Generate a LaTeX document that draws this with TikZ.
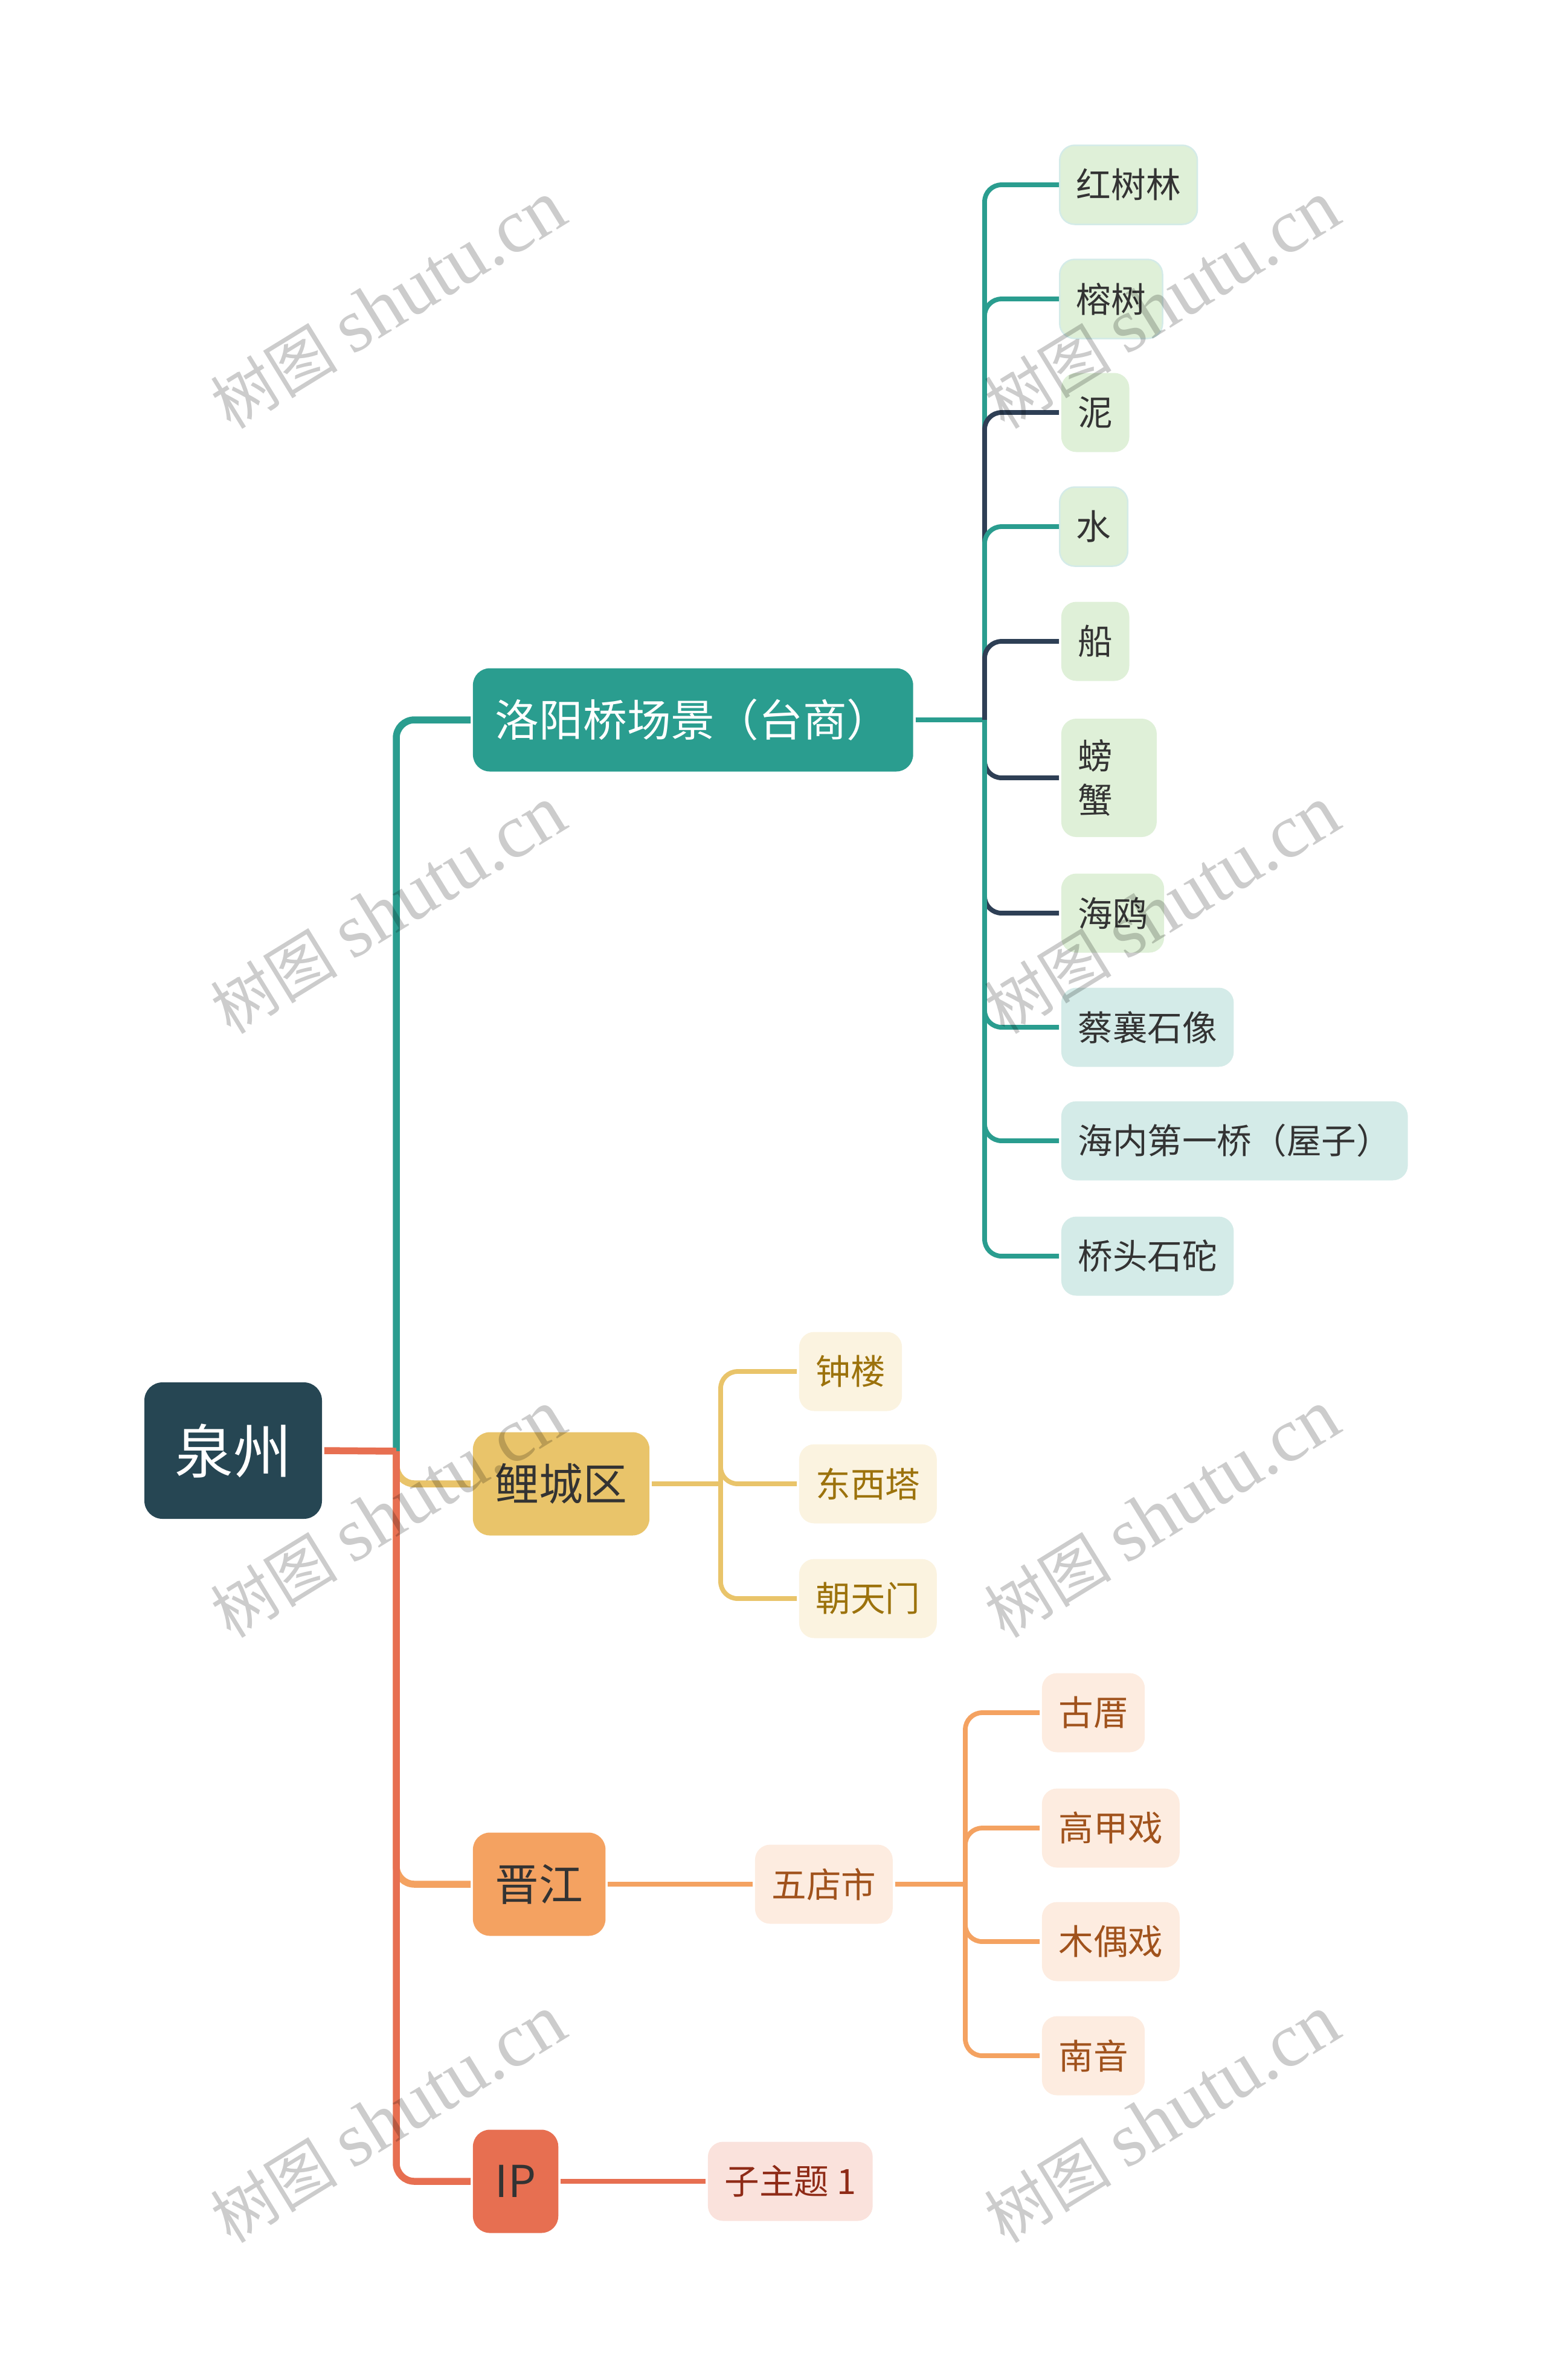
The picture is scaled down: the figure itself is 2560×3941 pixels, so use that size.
\documentclass[tikz,border=0pt]{standalone}
\usepackage{fontspec}
\setmainfont{Noto Sans CJK SC}
\newfontfamily\wmlatin{Liberation Serif}
\definecolor{rootcol}{HTML}{264653}
\definecolor{tealcol}{HTML}{2A9D8F}
\definecolor{goldcol}{HTML}{E9C46A}
\definecolor{sandcol}{HTML}{F4A261}
\definecolor{redcol}{HTML}{E76F51}
\definecolor{navycol}{HTML}{2E3F55}
\definecolor{greenfill}{HTML}{DFF0D8}
\definecolor{tealfill}{HTML}{D4EBE8}
\definecolor{goldfill}{HTML}{FBF3E0}
\definecolor{sandfill}{HTML}{FDECE0}
\definecolor{redfill}{HTML}{FAE2DC}
\definecolor{leaftext}{HTML}{333333}
\definecolor{goldtext}{HTML}{9C720C}
\definecolor{sandtext}{HTML}{A0521C}
\definecolor{redtext}{HTML}{8E2A16}

\begin{document}
\begin{tikzpicture}[x=0.1mm, y=-0.1mm, line width=0.78mm,
    topic/.style={rounded corners=2.8mm, inner xsep=3.7mm, minimum height=17.1mm, anchor=west,
        font=\fontsize{20.7}{24}\selectfont, text=leaftext},
    leaf/.style={rounded corners=2.5mm, inner xsep=2.75mm, minimum height=13.1mm, anchor=west,
        font=\fontsize{16.4}{20.7}\selectfont, text=leaftext},
    rim/.style={draw=tealfill, line width=0.25mm},
    link/.style={rounded corners=2.8mm},
    mainlink/.style={rounded corners=3mm, line width=1.15mm},
    wmark/.style={rotate=31.6, text=black, opacity=0.2}]
    \useasboundingbox (0,0) rectangle (2560,3941);

    % root and main topics
    \node[fill=rootcol, text=white, rounded corners=3mm, minimum width=29.4mm, minimum height=22.6mm,
        font=\fontsize{27.5}{30}\selectfont] (quanzhou) at (386,2402) {泉州};
    \node[topic, fill=tealcol, text=white] (luoyang) at (779,1192) {洛阳桥场景（台商）};
    \node[topic, fill=goldcol] (licheng) at (779,2457) {鲤城区};
    \node[topic, fill=sandcol] (jinjiang) at (779,3120) {晋江};
    \node[topic, fill=redcol] (ip) at (779,3612) {IP};

    \coordinate (trunk) at (656,2403);
    \coordinate (lyfork) at (1630,1192);
    \coordinate (lcfork) at (1193,2457);
    \coordinate (wdfork) at (1598,3120);

    % luoyang bridge
    \node[leaf, fill=greenfill, rim] (hongshulin) at (1753,306) {红树林};
    \node[leaf, fill=greenfill, rim] (rongshu) at (1753,495) {榕树};
    \node[leaf, fill=greenfill] (ni) at (1753,683) {泥};
    \node[leaf, fill=greenfill, rim] (shui) at (1753,872) {水};
    \node[leaf, fill=greenfill] (chuan) at (1753,1062) {船};
    \node[leaf, fill=greenfill, minimum height=19.6mm, text width=10.3mm, align=left] (pangxie) at (1753,1288) {螃\\蟹};
    \node[leaf, fill=greenfill] (haiou) at (1753,1512) {海鸥};
    \node[leaf, fill=tealfill] (caixiang) at (1753,1701) {蔡襄石像};
    \node[leaf, fill=tealfill] (haineiqiao) at (1753,1889) {海内第一桥（屋子）};
    \node[leaf, fill=tealfill] (qiaotou) at (1753,2080) {桥头石砣};

    % licheng
    \node[leaf, fill=goldfill, text=goldtext] (zhonglou) at (1319,2271) {钟楼};
    \node[leaf, fill=goldfill, text=goldtext] (dongxita) at (1319,2457) {东西塔};
    \node[leaf, fill=goldfill, text=goldtext] (chaotianmen) at (1319,2647) {朝天门};

    % jinjiang
    \node[leaf, fill=sandfill, text=sandtext] (wudianshi) at (1246,3120) {五店市};
    \node[leaf, fill=sandfill, text=sandtext] (gucuo) at (1721,2836) {古厝};
    \node[leaf, fill=sandfill, text=sandtext] (gaojiaxi) at (1721,3027) {高甲戏};
    \node[leaf, fill=sandfill, text=sandtext] (muouxi) at (1721,3215) {木偶戏};
    \node[leaf, fill=sandfill, text=sandtext] (nanyin) at (1721,3404) {南音};

    % ip
    \node[leaf, fill=redfill, text=redtext] (zizhuti) at (1168,3612) {子主题 1};

    % connectors
    \draw[mainlink, tealcol] (trunk) |- (luoyang.west);
    \draw[mainlink, goldcol] (trunk) |- (licheng.west);
    \draw[mainlink, sandcol] (trunk) |- (jinjiang.west);
    \draw[mainlink, redcol] (trunk) |- (ip.west);
    \draw[mainlink, redcol] (quanzhou.east) -- (trunk);

    \draw[tealcol] (luoyang.east) -- (lyfork);
    \draw[link, tealcol] (lyfork) |- (hongshulin.west);
    \draw[link, tealcol] (lyfork) |- (rongshu.west);
    \draw[link, navycol] (lyfork) |- (ni.west);
    \draw[link, tealcol] (lyfork) |- (shui.west);
    \draw[link, navycol] (lyfork) |- (chuan.west);
    \draw[link, navycol] (lyfork) |- (pangxie.west);
    \draw[link, navycol] (lyfork) |- (haiou.west);
    \draw[link, tealcol] (lyfork) |- (caixiang.west);
    \draw[link, tealcol] (lyfork) |- (haineiqiao.west);
    \draw[link, tealcol] (lyfork) |- (qiaotou.west);

    \draw[goldcol] (licheng.east) -- (lcfork);
    \draw[link, goldcol] (lcfork) |- (zhonglou.west);
    \draw[link, goldcol] (lcfork) |- (dongxita.west);
    \draw[link, goldcol] (lcfork) |- (chaotianmen.west);

    \draw[sandcol] (jinjiang.east) -- (wudianshi.west);
    \draw[sandcol] (wudianshi.east) -- (wdfork);
    \draw[link, sandcol] (wdfork) |- (gucuo.west);
    \draw[link, sandcol] (wdfork) |- (gaojiaxi.west);
    \draw[link, sandcol] (wdfork) |- (muouxi.west);
    \draw[link, sandcol] (wdfork) |- (nanyin.west);

    \draw[redcol] (ip.east) -- (zizhuti.west);

    % watermark
    \node[wmark] (wm1) at (643,505) {{\fontsize{30}{30}\selectfont 树图}\hspace{2.5mm}{\wmlatin\fontsize{36}{36}\selectfont shutu.cn}};
    \node[wmark] (wm2) at (643,1507) {{\fontsize{30}{30}\selectfont 树图}\hspace{2.5mm}{\wmlatin\fontsize{36}{36}\selectfont shutu.cn}};
    \node[wmark] (wm3) at (643,2507) {{\fontsize{30}{30}\selectfont 树图}\hspace{2.5mm}{\wmlatin\fontsize{36}{36}\selectfont shutu.cn}};
    \node[wmark] (wm4) at (643,3509) {{\fontsize{30}{30}\selectfont 树图}\hspace{2.5mm}{\wmlatin\fontsize{36}{36}\selectfont shutu.cn}};
    \node[wmark] (wm5) at (1924,505) {{\fontsize{30}{30}\selectfont 树图}\hspace{2.5mm}{\wmlatin\fontsize{36}{36}\selectfont shutu.cn}};
    \node[wmark] (wm6) at (1924,1507) {{\fontsize{30}{30}\selectfont 树图}\hspace{2.5mm}{\wmlatin\fontsize{36}{36}\selectfont shutu.cn}};
    \node[wmark] (wm7) at (1924,2507) {{\fontsize{30}{30}\selectfont 树图}\hspace{2.5mm}{\wmlatin\fontsize{36}{36}\selectfont shutu.cn}};
    \node[wmark] (wm8) at (1924,3509) {{\fontsize{30}{30}\selectfont 树图}\hspace{2.5mm}{\wmlatin\fontsize{36}{36}\selectfont shutu.cn}};
\end{tikzpicture}
\end{document}
